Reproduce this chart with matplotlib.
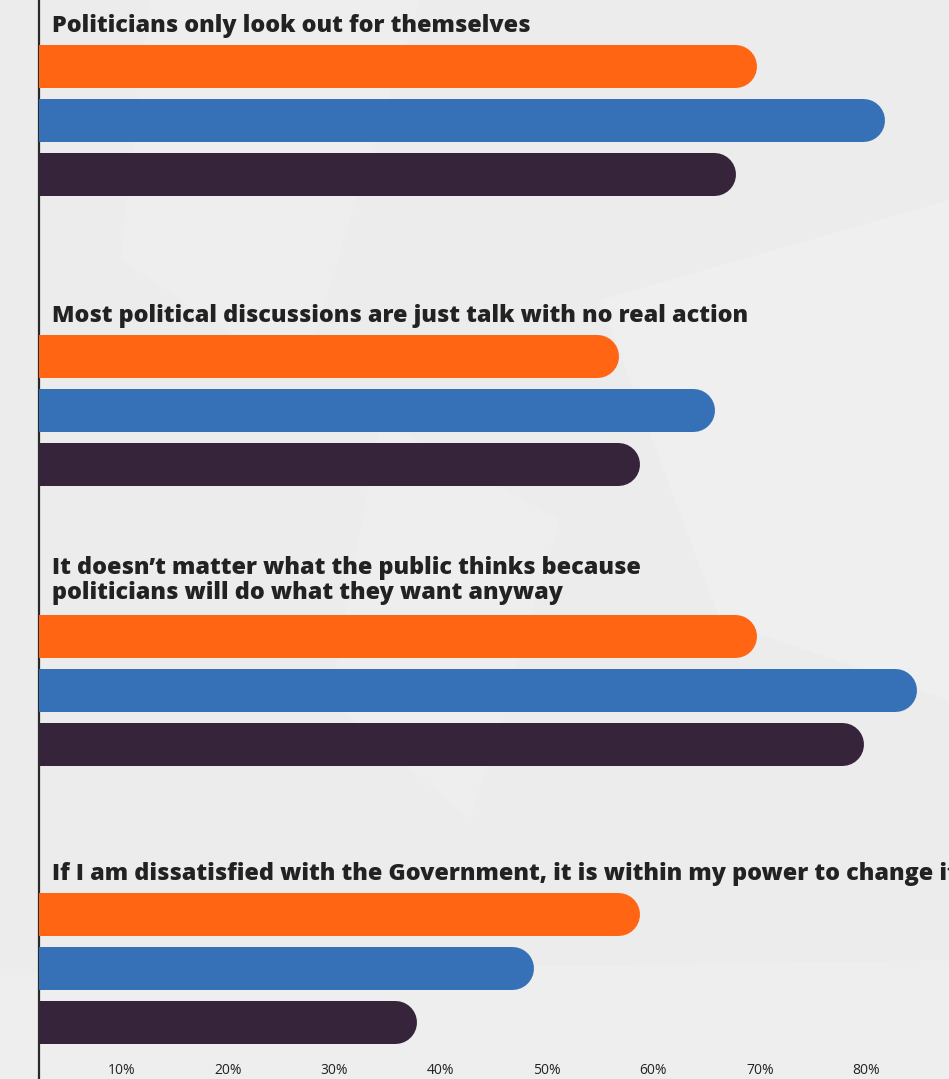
import matplotlib.pyplot as plt
import matplotlib.transforms as mtransforms
from matplotlib.patches import Polygon

# survey statements and the share agreeing, per group (orange, blue, dark)
statements = [
    "Politicians only look out for themselves",
    "Most political discussions are just talk with no real action",
    "It doesn\u2019t matter what the public thinks because\npoliticians will do what they want anyway",
    "If I am dissatisfied with the Government, it is within my power to change it",
]
orange_vals = [70, 57, 70, 59]
blue_vals = [82, 66, 85, 49]
dark_vals = [68, 59, 80, 38]

tick_vals = [10, 20, 30, 40, 50, 60, 70, 80]
tick_labels = [f"{v}%" for v in tick_vals]

colors = ["#ff6512", "#3671b8", "#36243b"]

W, H = 949, 1079
fig = plt.figure(figsize=(W / 100, H / 100), dpi=100)
fig.patch.set_facecolor("#ececec")

# faint light shapes in the background
bg = fig.add_axes([0, 0, 1, 1])
bg.set_xlim(0, W)
bg.set_ylim(H, 0)
bg.axis("off")
for pts, c in [
    ([(150, 0), (420, 0), (300, 380), (120, 260)], "#eeeeee"),
    ([(600, 300), (949, 200), (949, 700), (720, 620)], "#efefef"),
    ([(0, 975), (949, 960), (949, 1079), (0, 1079)], "#eeeeee"),
    ([(380, 420), (560, 520), (470, 820), (330, 700)], "#eeeeee"),
]:
    bg.add_patch(Polygon(pts, closed=True, color=c, lw=0))

left_px = 39
ax = fig.add_axes([left_px / W, 0, 1 - left_px / W, 1])
ax.patch.set_alpha(0)

px_per_pct = 10.643
zero_px = 11.8
ax.set_xlim((left_px - zero_px) / px_per_pct, (W - zero_px) / px_per_pct)
ax.set_ylim(H, 0)

bar_h = 43
bar_step = 54
group_tops = [44, 334, 614, 892]
title_gap = [12, 12, 15, 12]
cap = (bar_h / 2) / px_per_pct  # round cap length in % units
lw_pt = bar_h * 72 / 100

for i, text in enumerate(statements):
    top = group_tops[i]
    for j, vals in enumerate([orange_vals, blue_vals, dark_vals]):
        yc = top + bar_h / 2 + j * bar_step
        ax.plot([-10, vals[i] - cap], [yc, yc], color=colors[j], lw=lw_pt,
                solid_capstyle="round", zorder=3)
    ax.text((52 - zero_px) / px_per_pct, top - title_gap[i], text,
            fontsize=16.8, fontweight="heavy", family="Open Sans",
            color="#222222", va="baseline", ha="left", linespacing=1.08,
            clip_on=False)

ax.set_xticks(tick_vals)
ax.set_xticklabels(tick_labels, family="Open Sans", fontsize=10, color="#222222")
ax.tick_params(axis="x", length=0, pad=-11.5)
# labels sit a touch right of their tick
shift = mtransforms.ScaledTranslation(3 / 100, 0, fig.dpi_scale_trans)
for lbl in ax.get_xticklabels():
    lbl.set_transform(lbl.get_transform() + shift)
ax.set_yticks([])
for s in ["top", "right", "bottom"]:
    ax.spines[s].set_visible(False)
ax.spines["left"].set_color("#2a2a2a")
ax.spines["left"].set_linewidth(1.6)

fig.savefig("out.png", dpi=100, facecolor=fig.get_facecolor())
